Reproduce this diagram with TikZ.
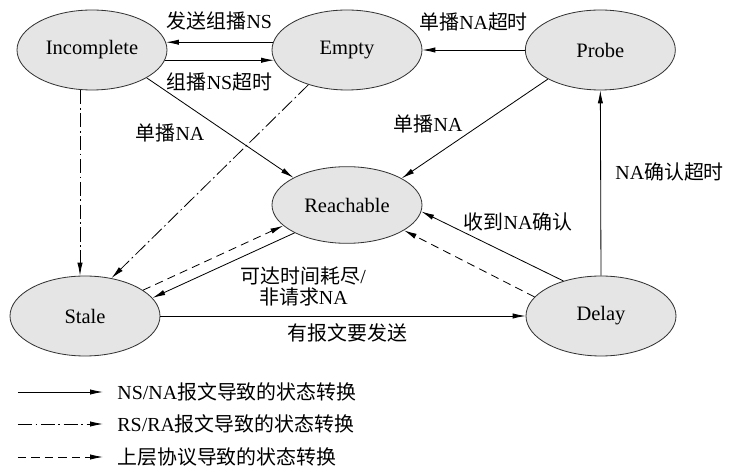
\documentclass[tikz,border=0pt]{standalone}
\usepackage{fontspec}
\setmainfont{Liberation Serif}
\newfontfamily\cjk{Noto Sans CJK SC}
\usetikzlibrary{shapes.geometric, arrows.meta}
\newcommand{\zh}[1]{{\cjk #1}}
\tikzstyle{state} = [ellipse, minimum width=4.5cm, minimum height=2.4cm, draw=black!80, line width=0.7pt, fill=black!10, font=\fontsize{17.5}{18}\selectfont]
\tikzstyle{lbl} = [font=\fontsize{17}{18}\selectfont, inner sep=0pt, align=center]
\tikzstyle{arrow} = [line width=0.7pt, -{Latex[length=11pt,width=4.5pt]}]
\tikzstyle{rsra} = [arrow, dash pattern=on 12pt off 3pt on 1.5pt off 3pt]
\tikzstyle{uplayer} = [arrow, dash pattern=on 7pt off 4.5pt]

\begin{document}
\begin{tikzpicture}[node distance=1cm]
  \useasboundingbox (0,0) rectangle (21.9,-14.07);
  \node (Incomplete) [state] at (2.76,-1.5) {Incomplete};
  \node (Empty) [state, right of=Incomplete, xshift=6.65cm] {Empty};
  \node (Probe) [state, right of=Empty, xshift=6.6cm] {Probe};
  \node (Reachable) [state, below of=Empty, yshift=-3.65cm, minimum height=2.3cm] {Reachable};
  \node (Stale) [state, below of=Incomplete, yshift=-6.98cm, xshift=-0.21cm] {Stale};
  \node (Delay) [state, right of=Stale, xshift=14.48cm] {Delay};
  \draw[arrow] (Empty.174) -- (Incomplete.6) node[lbl, midway, yshift=0.63cm] {\zh{发送组播}NS};
  \draw[arrow] (Incomplete.-8) -- (Empty.188) node[lbl, midway, yshift=-0.66cm] {\zh{组播}NS\zh{超时}};
  \draw[arrow] (Probe.west) -- (Empty.east) node[lbl, midway, yshift=0.84cm] {\zh{单播}NA\zh{超时}};
  \draw[arrow] (Incomplete.-27) -- (Reachable.153) node[lbl, pos=0.35, xshift=-0.84cm, yshift=-0.6cm] {\zh{单播}NA};
  \draw[arrow] (Probe.209) -- (Reachable.26) node[lbl, pos=0.5, xshift=-1.4cm, yshift=0.15cm] {\zh{单播}NA};
  \draw[rsra] ([xshift=-0.36cm]Incomplete.south) -- ([xshift=-0.36cm]Incomplete.south |- Stale.north);
  \draw[rsra] (Empty.222) -- (Stale.55);
  \draw[uplayer] (Stale.24) -- (Reachable.198);
  \draw[arrow] (Reachable.208) -- (Stale.15) node[lbl, pos=0.2, xshift=1.12cm, yshift=-1.21cm] {\zh{可达时间耗尽}/\\\zh{非请求}NA};
  \draw[arrow] (Stale.east) -- (Delay.west) node[lbl, midway, xshift=0.13cm, yshift=-0.51cm] {\zh{有报文要发送}};
  \draw[arrow] (Delay.137) -- (Reachable.-5) node[lbl, pos=0.5, xshift=0.77cm, yshift=0.72cm] {\zh{收到}NA\zh{确认}};
  \draw[uplayer] (Delay.164) -- (Reachable.-24);
  \draw[arrow] (Delay.north) -- (Probe.south) node[lbl, pos=0.56, xshift=2.07cm] {NA\zh{确认超时}};
  % legend
  \coordinate (nsnaA) at (0.54,-11.76);
  \coordinate (nsnaB) at (3.09,-11.76);
  \coordinate (rsraA) at (0.54,-12.72);
  \coordinate (rsraB) at (3.09,-12.72);
  \coordinate (upA) at (0.54,-13.71);
  \coordinate (upB) at (3.09,-13.71);
  \draw[arrow] (nsnaA) -- (nsnaB) node[lbl, right=0.42cm] {NS/NA\zh{报文导致的状态转换}};
  \draw[rsra] (rsraA) -- (rsraB) node[lbl, right=0.42cm] {RS/RA\zh{报文导致的状态转换}};
  \draw[uplayer] (upA) -- (upB) node[lbl, right=0.42cm] {\zh{上层协议导致的状态转换}};
\end{tikzpicture}
\end{document}
